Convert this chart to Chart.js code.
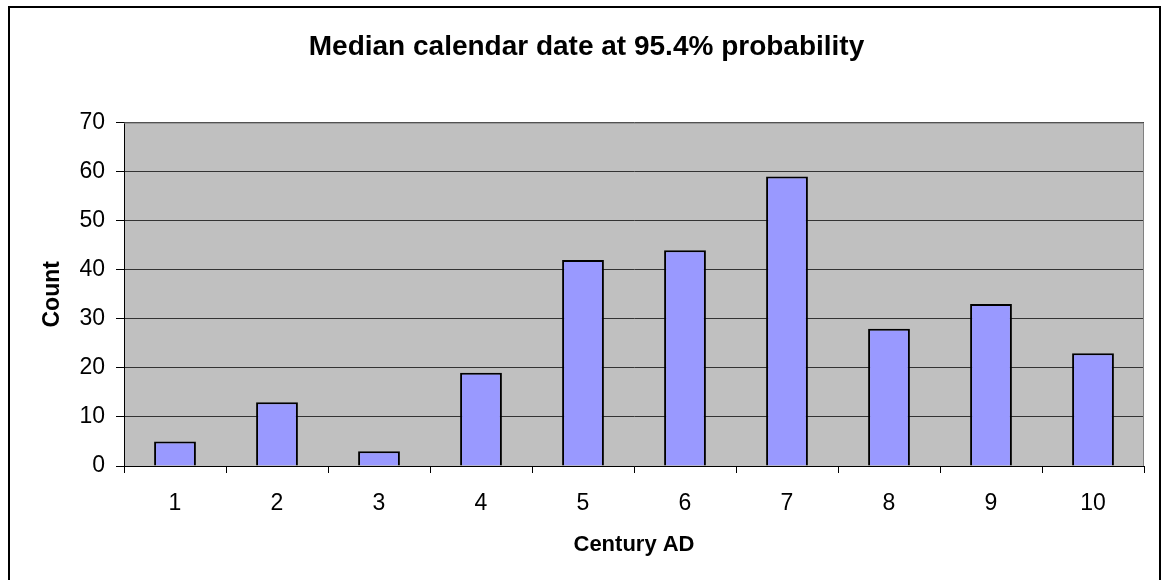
<!DOCTYPE html>
<html>
<head>
<meta charset="utf-8">
<script src="https://cdn.jsdelivr.net/npm/chart.js@4/dist/chart.umd.min.js"></script>
<style>
  body { margin: 0; background: #fff; }
  #wrap { width: 1162px; height: 580px; }
</style>
</head>
<body>
<div id="wrap"><canvas id="medianChart"></canvas></div>
<script>
const centuries = ['1', '2', '3', '4', '5', '6', '7', '8', '9', '10'];
const counts = [5, 13, 3, 19, 42, 44, 59, 28, 33, 23];
const yTicks = [0, 10, 20, 30, 40, 50, 60, 70];

// plot area background + outer frame + top/right border
const framePlugin = {
    id: 'frame',
    beforeDraw(chart) {
        const c = chart.ctx;
        const a = chart.chartArea;
        c.save();
        c.fillStyle = '#ffffff';
        c.fillRect(0, 0, chart.width, chart.height);
        c.fillStyle = '#c0c0c0';
        c.fillRect(a.left, a.top, a.right - a.left, a.bottom - a.top);
        c.strokeStyle = '#000000';
        c.lineWidth = 2;
        c.strokeRect(9, 7, 1151, 600);
        c.restore();
    },
    afterDatasetsDraw(chart) {
        const c = chart.ctx;
        const a = chart.chartArea;
        c.save();
        c.strokeStyle = '#808080';
        c.lineWidth = 1;
        c.beginPath();
        c.moveTo(a.left, a.top + 0.5);
        c.lineTo(a.right - 0.5, a.top + 0.5);
        c.lineTo(a.right - 0.5, a.bottom);
        c.stroke();
        c.restore();
    }
};

const ctx = document.getElementById('medianChart').getContext('2d');
const medianChart = new Chart(ctx, {
    type: 'bar',
    data: {
        labels: centuries,
        datasets: [{
            label: 'Count',
            data: counts,
            backgroundColor: '#9999ff',
            borderColor: '#000000',
            borderWidth: 2,
            barPercentage: 0.41,
            categoryPercentage: 1.0
        }]
    },
    plugins: [framePlugin],
    options: {
        responsive: true,
        maintainAspectRatio: false,
        animation: false,
        layout: { padding: { left: 29, right: 18, top: 0, bottom: 0 } },
        plugins: {
            legend: { display: false },
            tooltip: { enabled: false },
            title: {
                display: true,
                text: 'Median calendar date at 95.4% probability',
                color: '#000',
                font: { family: 'Liberation Sans', size: 28, weight: 'bold' },
                padding: { top: 30, bottom: 59 }
            }
        },
        scales: {
            x: {
                offset: true,
                afterFit(scale) { scale.height = 114; },
                grid: {
                    offset: true,
                    drawOnChartArea: false,
                    color: '#000',
                    tickLength: 7,
                    tickColor: '#000'
                },
                border: { color: '#000', width: 1 },
                ticks: {
                    color: '#000',
                    padding: 17,
                    font: { family: 'Liberation Sans', size: 23 }
                },
                title: {
                    display: true,
                    text: 'Century AD',
                    color: '#000',
                    font: { family: 'Liberation Sans', size: 22, weight: 'bold' },
                    padding: { top: 0, bottom: 22 }
                }
            },
            y: {
                min: 0,
                max: 70,
                afterFit(scale) { scale.width = 95; },
                afterBuildTicks(scale) { scale.ticks = yTicks.map(v => ({ value: v })); },
                grid: {
                    color: '#333333',
                    lineWidth: 1,
                    tickLength: 8,
                    tickColor: '#000'
                },
                border: { color: '#000', width: 1 },
                ticks: {
                    color: '#000',
                    padding: 11,
                    font: { family: 'Liberation Sans', size: 23 }
                },
                title: {
                    display: true,
                    text: 'Count',
                    color: '#000',
                    font: { family: 'Liberation Sans', size: 23, weight: 'bold' },
                    padding: { top: 10, bottom: 0 }
                }
            }
        }
    }
});
</script>
</body>
</html>
